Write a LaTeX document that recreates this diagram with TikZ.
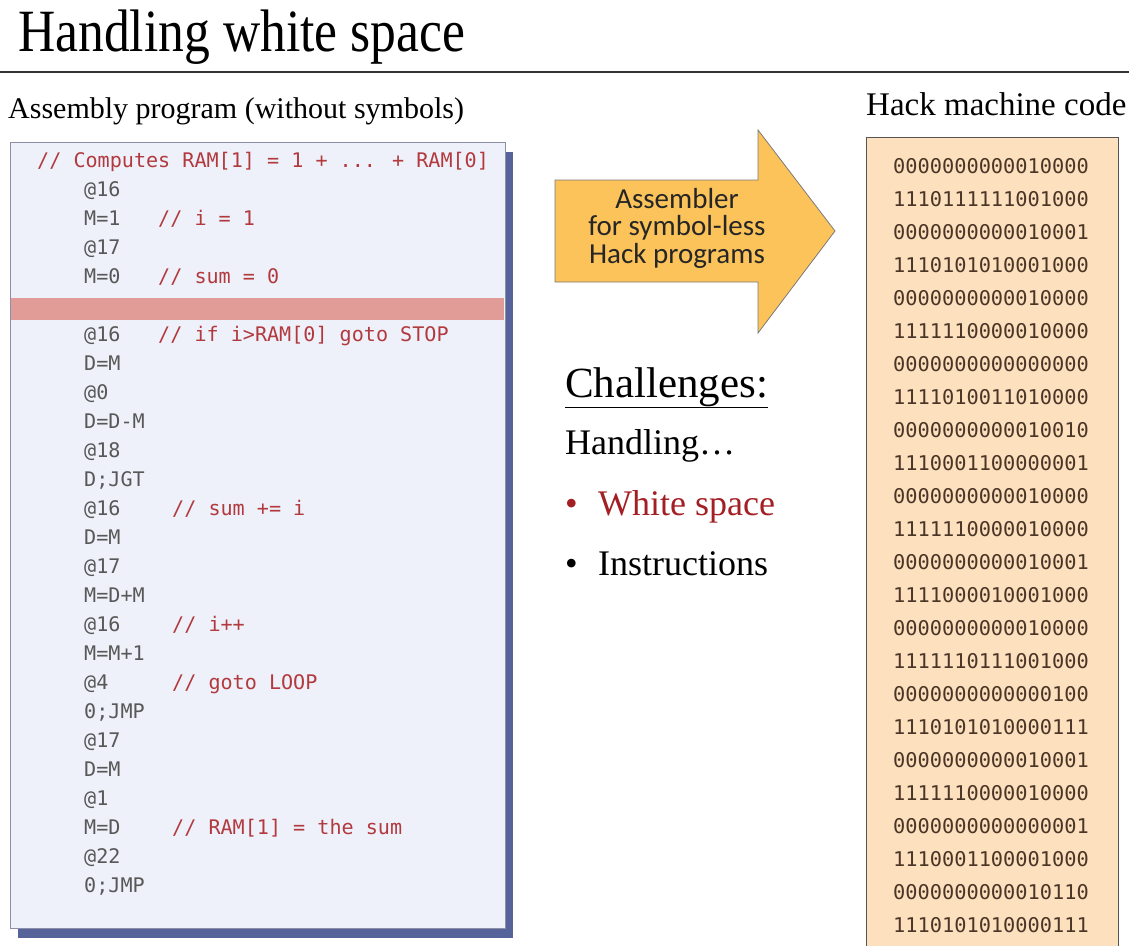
\documentclass[tikz,border=0pt]{standalone}
\usepackage{fontspec}
\usepackage{graphicx}
\setmainfont{Liberation Serif}
\newfontfamily\codefont{DejaVu Sans Mono}
\newfontfamily\toolfont{Carlito}
\usetikzlibrary{shadows}

\definecolor{asmfill}{HTML}{EEF1FA}
\definecolor{asmline}{HTML}{8C8FA6}
\definecolor{asmshadow}{HTML}{56639A}
\definecolor{bandred}{HTML}{E29C97}
\definecolor{codegray}{HTML}{585858}
\definecolor{codered}{HTML}{B23A3E}
\definecolor{hackfill}{HTML}{FDE1BF}
\definecolor{hackline}{HTML}{555555}
\definecolor{hacktext}{HTML}{4A3526}
\definecolor{arrowfill}{HTML}{FBC35A}
\definecolor{arrowline}{HTML}{7A7A7A}
\definecolor{bulletred}{HTML}{A31F24}

\newcommand{\cmt}[1]{\textcolor{codered}{#1}}
\newcommand{\cmtb}[1]{\hspace*{14pt}\textcolor{codered}{#1}}
\newcommand{\squeeze}[2]{\scalebox{#1}[1]{#2}}

\tikzset{
  heading/.style={anchor=base west, inner sep=0pt, font=\fontsize{60}{64}\selectfont},
  caption/.style={anchor=base west, inner sep=0pt, font=\fontsize{30}{34}\selectfont},
  asmbox/.style={draw=asmline, fill=asmfill, line width=1pt, inner sep=0pt, anchor=north west,
    drop shadow={shadow xshift=7pt, shadow yshift=-9pt, fill=asmshadow, opacity=1}},
  blankline/.style={fill=bandred, inner sep=0pt, anchor=north west},
  codetext/.style={anchor=base west, inner sep=0pt, text=codegray, font=\codefont\fontsize{20.1}{29}\selectfont},
  hackbox/.style={draw=hackline, fill=hackfill, line width=1.2pt, inner sep=0pt, anchor=north west},
  bittext/.style={anchor=base west, inner sep=0pt, text=hacktext, font=\codefont\fontsize{20.3}{33}\selectfont},
  toolarrow/.style={draw=arrowline, fill=arrowfill, line width=0.8pt, line join=miter},
  tooltext/.style={align=center, inner sep=0pt, text=black!85, font=\toolfont\fontsize{29}{27.5}\selectfont},
  listtext/.style={anchor=base west, inner sep=0pt, font=\fontsize{36}{40}\selectfont},
  rule/.style={draw=black!80, line width=2pt}
}

\begin{document}
\begin{tikzpicture}[x=1pt,y=1pt]
\useasboundingbox (0,0) rectangle (1129,-945);

% title and rule
\node[heading] (title) at (18,-51) {\squeeze{0.86}{Handling white space}};
\coordinate (ruleL) at (0,-72);
\coordinate (ruleR) at (1129,-72);
\draw[rule] (ruleL) -- (ruleR);

\node[caption] (asmlabel) at (8,-118) {Assembly program (without symbols)};
\node[caption, font=\fontsize{33}{36}\selectfont] (hacklabel) at (866,-115) {Hack machine code};

% assembly program
\node[asmbox, minimum width=495pt, minimum height=786pt] (asm) at (10,-142) {};
\node[blankline, minimum width=493pt, minimum height=22pt] (blank) at (11,-298) {};
\node[codetext, text=codered] (header) at (37,-167) {// Computes RAM[1] = 1 + ... + RAM[0]};
\node[codetext] (code) at (84,-196) {%
\begin{tabular}[t]{@{}p{74pt}@{}l@{}}
@16 \\
M=1 & \cmt{// i = 1} \\
@17 \\
M=0 & \cmt{// sum = 0} \\
 \\
@16 & \cmt{// if i>RAM[0] goto STOP} \\
D=M \\
@0 \\
D=D-M \\
@18 \\
D;JGT \\
@16 & \cmtb{// sum += i} \\
D=M \\
@17 \\
M=D+M \\
@16 & \cmtb{// i++} \\
M=M+1 \\
@4 & \cmtb{// goto LOOP} \\
0;JMP \\
@17 \\
D=M \\
@1 \\
M=D & \cmtb{// RAM[1] = the sum} \\
@22 \\
0;JMP
\end{tabular}};

% assembler arrow
\draw[toolarrow] (555,-180) -- (758,-180) -- (758,-130) -- (835,-231)
  -- (758,-333) -- (758,-282) -- (555,-282) -- cycle;
\node[tooltext] (tool) at (677,-228) {Assembler\\for symbol-less\\Hack programs};

% challenges
\node[listtext, font=\fontsize{43}{46}\selectfont] (challenges) at (565,-397) {\underline{Challenges:}};
\node[listtext] (handling) at (565,-454) {Handling…};
\node[listtext, text=bulletred] (dot1) at (565,-515) {•};
\node[listtext, text=bulletred] (white) at (598,-515) {White space};
\node[listtext] (dot2) at (565,-575) {•};
\node[listtext] (instr) at (598,-575) {Instructions};

% hack machine code
\node[hackbox, minimum width=252pt, minimum height=840pt] (hack) at (866,-137) {};
\node[bittext] (bits) at (893,-173) {%
\begin{tabular}[t]{@{}l@{}}
0000000000010000\\
1110111111001000\\
0000000000010001\\
1110101010001000\\
0000000000010000\\
1111110000010000\\
0000000000000000\\
1111010011010000\\
0000000000010010\\
1110001100000001\\
0000000000010000\\
1111110000010000\\
0000000000010001\\
1111000010001000\\
0000000000010000\\
1111110111001000\\
0000000000000100\\
1110101010000111\\
0000000000010001\\
1111110000010000\\
0000000000000001\\
1110001100001000\\
0000000000010110\\
1110101010000111
\end{tabular}};
\end{tikzpicture}
\end{document}
